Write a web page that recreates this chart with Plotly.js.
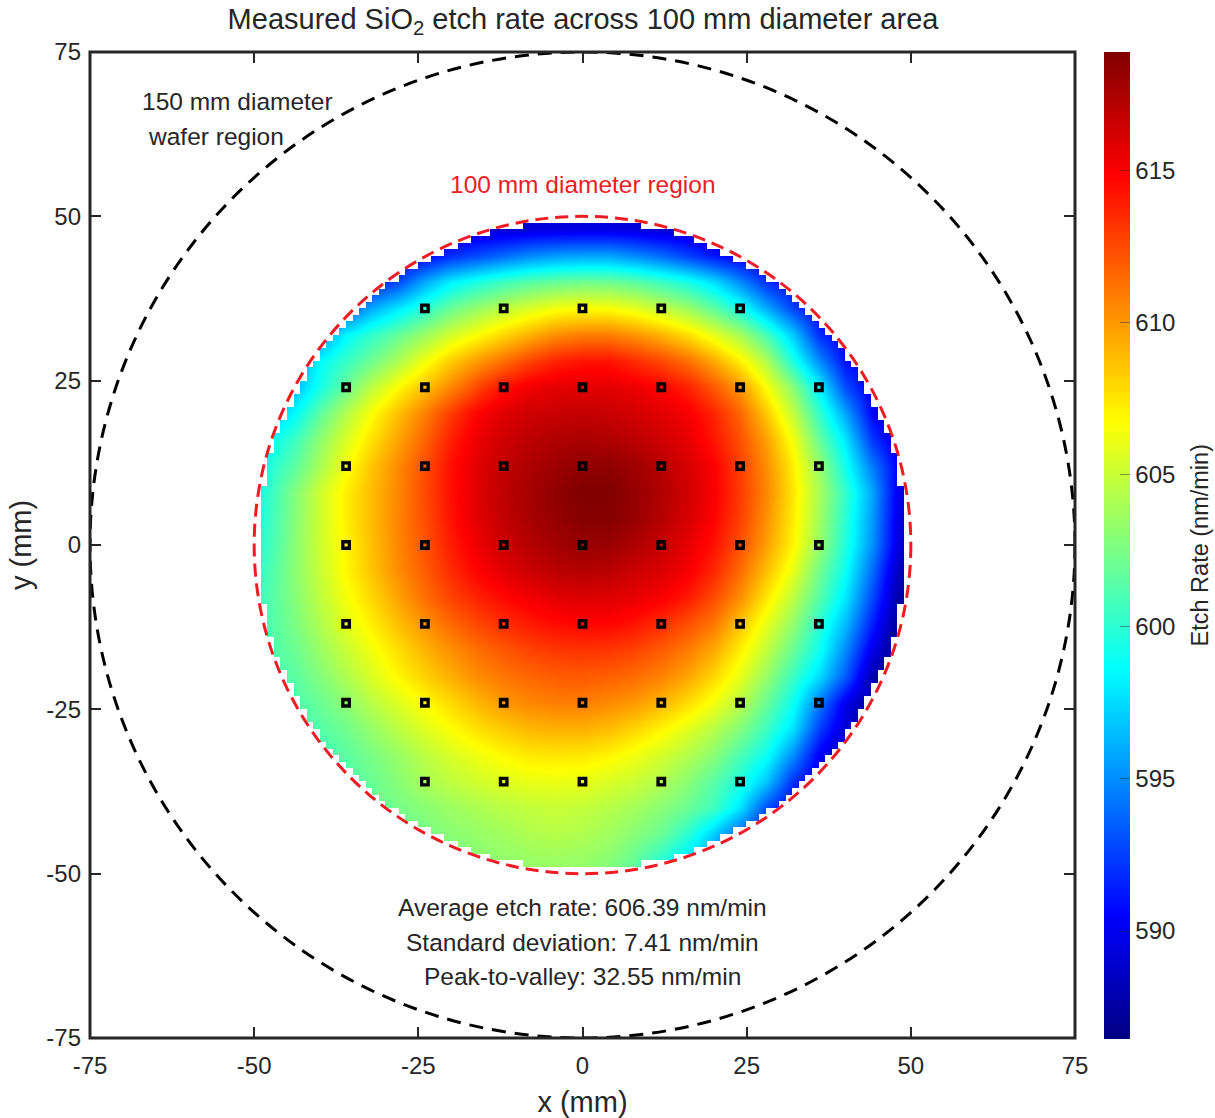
<!DOCTYPE html>
<html><head><meta charset="utf-8">
<script src="https://cdn.plot.ly/plotly-3.0.1.min.js"></script>
<style>html,body{margin:0;padding:0;background:#fff}</style></head>
<body><div id="chart" style="width:1215px;height:1118px"></div>
<script>
const xNodes = [-52,-48,-44,-40,-36,-32,-28,-24,-20,-16,-12,-8,-4,0,4,8,12,16,20,24,28,32,36,40,44,48,52];
const yNodes = [52,48,44,40,36,32,28,24,20,16,12,8,4,0,-4,-8,-12,-16,-20,-24,-28,-32,-36,-40,-44,-48,-52];
const etchRate = [
[588.5,588.5,588.5,588.5,588.5,588.5,588.5,588.5,588.5,588.5,588.6,588.8,588.9,589,589,588.9,588.6,588.5,588.5,588.5,588.5,588.5,588.5,588.5,588.5,588.5,588.5],
[588.9,588.9,588.9,588.9,588.9,588.9,588.9,588.9,588.9,589,589.2,589.4,589.5,589.6,589.6,589.4,589.1,588.9,588.9,588.9,588.9,588.9,588.9,588.9,588.9,588.9,588.9],
[589,589,589.2,589.3,589.4,589.5,589.8,590.6,592,593,594,595,595.6,595.8,595.8,595,594,592.6,591.2,590.2,589.8,589.5,589.3,589.2,589,589,589],
[589,589,589.2,589.8,590.3,591,593,596,598.3,599.6,600.7,601.5,602,602.3,602.2,601.6,600.6,599.4,597.6,595,592,590.5,589.8,589.5,589.2,589,589],
[589,589.3,590,591,593,596,598,600,602,603.5,604.6,605.6,606.4,606.7,606.6,605.9,604.8,603.6,601.6,599.3,596,592.6,590.3,589.5,589,588.8,588.5],
[589.5,590.5,592,595,598.5,600.3,602,603.7,605.4,606.8,608.1,609.3,610.4,610.9,610.9,610.2,609.2,607.8,606,604,601,597,592,590,589,588.5,588.3],
[590.5,592,595,598.6,600.4,602.2,604.2,606.4,608.4,610,611.4,612.8,613.8,614.3,614.3,613.5,612.6,611.3,609.5,607.2,604.3,599.5,595,591,589.5,588.5,588],
[592.5,594,596.3,599.3,602,604.7,606.9,608.7,610.6,612.7,614.4,615.3,615.7,615.8,615.7,615.4,614.8,613.8,612,610,606.7,603,598.3,593,590,588.5,588],
[595.5,596.5,598.5,601.6,604.3,606.7,608.8,610.8,613,614.9,615.9,616.4,616.6,616.7,616.6,616.2,615.8,615.1,613.7,611.6,608.5,604.8,600.3,595.8,590.6,589,588],
[597,598.5,600.5,603.2,605.6,607.7,609.7,611.7,613.9,615.5,616.4,617,617.4,617.6,617.4,617,616.4,615.6,614.2,612.3,609.8,606.4,602,598,592.3,589.5,588],
[598,599.5,601.5,604,606.5,608.6,610.5,612.4,614.4,615.8,616.8,617.5,618,618.4,618.4,617.9,617.1,616.1,614.9,612.8,610.4,607.2,603.5,599.2,594.5,590.3,588],
[598.5,600,602.7,605.2,607.2,608.9,610.6,612.5,614.4,615.9,616.9,617.7,618.4,618.9,618.9,618.2,617.4,616.3,615,613,610.6,607.5,604,600.3,595.8,590,587.5],
[598.8,600.2,602.8,605.2,607.2,608.9,610.7,612.4,614.3,615.8,616.8,617.6,618.2,618.7,618.7,618.1,617.2,616.1,614.8,612.8,610.3,607.3,603.8,600,595.5,589.7,587],
[599,600.4,602.9,605.2,607,608.8,610.6,612.2,614,615.4,616.4,617.2,617.8,618.1,618,617.4,616.6,615.6,614.3,612.3,609.8,607,603.5,599.7,595.2,589.5,587],
[599.5,600.8,603,605,606.9,608.6,610.4,611.9,613.5,614.8,615.8,616.5,617,617.2,617,616.4,616,615.1,613.6,611.4,608.8,606,602.3,599,594,588.5,586.5],
[599.8,601,602.8,604.7,606.4,608,609.7,611.3,612.7,613.8,614.6,615.2,615.7,615.9,615.8,615.5,615,614,612.4,610.3,607.5,604.6,601.4,598,592.8,587.8,586.4],
[600,601,602.5,604.2,605.8,607.2,608.8,610.2,611.5,612.6,613.4,614,614.5,614.7,614.7,614.2,613.4,612.3,611,608.6,606,603.3,600,596.5,591.5,587,586.4],
[600,601,602,603.5,605,606.4,607.8,609.1,610.3,611.3,612.1,612.7,613.1,613.2,613.1,612.7,611.9,610.9,609.4,607.2,604.8,602,599.1,595,589.8,586.6,586.4],
[600,600.8,601.5,602.8,604.2,605.6,607,608.2,609.3,610.4,611.1,611.6,611.9,612,611.8,611.4,610.7,609.6,608,606,603.5,600.5,597.6,593.5,588,586.4,586.4],
[600,600.6,601,602,603.1,604.5,605.7,606.8,607.9,609,610,610.5,610.8,610.8,610.4,609.9,609,607.8,606.3,604.5,602,599,594.5,590,587,586.4,586.4],
[600,600.4,600.7,601.3,602.2,603.4,604.6,605.7,606.7,607.7,608.4,609,609.2,609.2,608.8,608,607,605.8,604.4,602.8,600.6,597.7,592.5,589,587,586.4,586.4],
[600,600,600.4,600.8,601.5,602.5,603.5,604.6,605.5,606.3,606.9,607.4,607.5,607.4,607,606.3,605.4,604.3,603,601,599,595,590.3,588,587,586.4,586.4],
[600,600,600,600.6,601.2,602,603,604,604.7,605.3,605.7,606,606.1,606,605.5,605,604.2,603,601.4,599.6,596.8,592,589.5,588,587,586.4,586.4],
[600.5,600.5,600.5,600.5,601,601.8,602.4,603,603.6,604.1,604.5,604.8,605,604.8,604.4,603.8,603,602,600.6,597.8,593,590,589,588,587,586.4,586.4],
[601,601,601,601,601.2,601.5,602,602.4,603,603.4,603.8,604.2,604.4,604.2,603.7,602.9,602,600,597,593.5,591,589.5,588.5,588,587,586.4,586.4],
[602,602,602,602,602,602,602,602.2,602.6,603,603.2,603.5,603.6,603.4,603,601.8,600,597.8,595,592,590,589,588.5,588,587,586.4,586.4],
[602,602,602,602,602,602,602,602,602.3,602.7,603,603.2,603.3,603.1,602.6,601.4,599.5,597.2,594.5,591.5,590,589,588.5,588,587,586.4,586.4]
];
const siteX = [-24,-12,0,12,24, -36,-24,-12,0,12,24,36, -36,-24,-12,0,12,24,36, -36,-24,-12,0,12,24,36, -36,-24,-12,0,12,24,36, -36,-24,-12,0,12,24,36, -24,-12,0,12,24];
const siteY = [36,36,36,36,36, 24,24,24,24,24,24,24, 12,12,12,12,12,12,12, 0,0,0,0,0,0,0, -12,-12,-12,-12,-12,-12,-12, -24,-24,-24,-24,-24,-24,-24, -36,-36,-36,-36,-36];
const axisTicks = [-75,-50,-25,0,25,50,75];
const colorbarTicks = [590,595,600,605,610,615];
const etchMin = 586.45, etchMax = 618.91;
const waferDiameter = 150, regionDiameter = 100, measuredRadius = 49.4;
const statLines = ["Average etch rate: 606.39 nm/min","Standard deviation: 7.41 nm/min","Peak-to-valley: 32.55 nm/min"];

const FONT = 'Liberation Sans, Arial, sans-serif';
const INK = '#262626';
const RED = '#ee1c25';
const jet = [[0,'rgb(0,0,130)'],[0.125,'rgb(0,0,255)'],[0.375,'rgb(0,255,255)'],[0.625,'rgb(255,255,0)'],[0.875,'rgb(255,0,0)'],[1,'rgb(128,0,0)']];

// white 1 mm cells outside the measured disc give the stepped edge
const cellCentres = [];
for (let i = -56; i < 56; i++) cellCentres.push(i + 0.5);
const outside = cellCentres.map(v => cellCentres.map(u => Math.hypot(u, v) > measuredRadius ? 1 : null));

const traces = [
 {type:'heatmap', x:xNodes, y:yNodes.slice().reverse(), z:etchRate.slice().reverse(), zsmooth:'best',
  zmin:etchMin, zmax:etchMax, colorscale:jet, hoverinfo:'skip',
  colorbar:{x:1104/1215, xref:'container', xanchor:'left', y:0.5-59.5/1118, yref:'container', yanchor:'middle',
    thicknessmode:'pixels', thickness:26, lenmode:'pixels', len:987, outlinewidth:0, xpad:0, ypad:0,
    tickmode:'array', tickvals:colorbarTicks, ticks:'inside', ticklen:10, tickwidth:1, tickcolor:'rgba(38,38,38,0.45)',
    tickfont:{family:FONT,size:24,color:INK}}},
 {type:'heatmap', x:cellCentres, y:cellCentres, z:outside, zmin:0, zmax:1, showscale:false, zsmooth:false,
  colorscale:[[0,'#fff'],[1,'#fff']], hoverinfo:'skip'},
 {type:'scatter', mode:'markers', x:siteX, y:siteY, hoverinfo:'skip', showlegend:false,
  marker:{symbol:'square-open', size:6.5, color:'#000', line:{color:'#000', width:3.3}}}
];

function axis(titleText, standoff, labelGap){
 return {range:[-75,75], tickmode:'array', tickvals:axisTicks, ticktext:axisTicks.map(String), ticks:'inside', ticklen:11, tickwidth:2, tickcolor:INK,
  showline:false, mirror:'ticks', showgrid:false, zeroline:false, automargin:false, ticklabelstandoff:labelGap,
  tickfont:{family:FONT,size:24,color:INK},
  title:{text:titleText, standoff:standoff, font:{family:FONT,size:29,color:INK}}};
}
const textAt = (text,x,y,color) => ({text, x, y, xref:'x', yref:'y', showarrow:false, xanchor:'center', yanchor:'middle',
  font:{family:FONT,size:24.5,color:color||INK}});

const layout = {
 width:1215, height:1118, margin:{l:90,r:139.5,t:52,b:80}, paper_bgcolor:'#fff', plot_bgcolor:'#fff', showlegend:false,
 title:{text:'Measured SiO<sub>2</sub> etch rate across 100 mm diameter area', x:583/1215, xanchor:'center', yref:'container', y:1-18.5/1118, yanchor:'middle',
   font:{family:FONT,size:29,color:INK}},
 xaxis:axis('x (mm)',13,11), yaxis:axis('y (mm)',6,8),
 shapes:[
  {type:'circle', xref:'x', yref:'y', x0:-waferDiameter/2, x1:waferDiameter/2, y0:-waferDiameter/2, y1:waferDiameter/2, line:{color:'#000',width:3,dash:'14px,9px'}},
  {type:'circle', xref:'x', yref:'y', x0:-regionDiameter/2, x1:regionDiameter/2, y0:-regionDiameter/2, y1:regionDiameter/2, line:{color:RED,width:3,dash:'13px,7px'}},
  {type:'rect', xref:'paper', yref:'paper', x0:0, x1:1, y0:0, y1:1, line:{color:INK,width:3}}
 ],
 annotations:[
  textAt('150 mm diameter',-52.5,67.4), textAt('wafer region',-55.8,62.2),
  textAt('100 mm diameter region',0,54.8,RED),
  textAt(statLines[0],0,-55.2), textAt(statLines[1],0,-60.4), textAt(statLines[2],0,-65.6),
  {text:'Etch Rate (nm/min)', xref:'paper', yref:'y', x:(1201-90)/985.5, y:0, showarrow:false, textangle:-90, xanchor:'center', yanchor:'middle',
   font:{family:FONT,size:23.5,color:INK}}
 ]
};
Plotly.newPlot('chart', traces, layout, {displayModeBar:false, staticPlot:true});
</script></body></html>
